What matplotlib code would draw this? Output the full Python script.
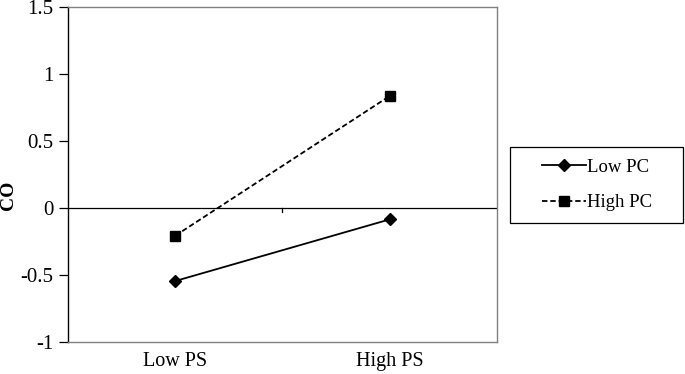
import matplotlib
matplotlib.use("Agg")
import matplotlib.pyplot as plt
from matplotlib.patches import Rectangle

categories = ["Low PS", "High PS"]
low_pc = [-0.545, -0.085]
high_pc = [-0.207, 0.836]
series_names = ["Low PC", "High PC"]
yticks = [-1, -0.5, 0, 0.5, 1, 1.5]
ytick_labels = ["-1", "-0.5", "0", "0.5", "1", "1.5"]

plt.rcParams['font.family'] = ['Liberation Serif', 'DejaVu Serif']

fig = plt.figure(figsize=(6.85, 3.74), dpi=100)
ax = fig.add_axes([0.0993, 0.0856, 0.6262, 0.8957])

x = list(range(len(categories)))
ax.plot(x, low_pc, color='black', lw=1.3, marker='D', markersize=6,
        label=series_names[0])
ax.plot(x, high_pc, color='black', lw=1.3, ls=(0, (3, 1.6)), marker='s',
        markersize=7, label=series_names[1])

ax.set_xlim(-0.5, len(categories) - 0.5)
ax.set_ylim(-1, 1.5)
ax.set_yticks(yticks)
ax.set_yticklabels(ytick_labels, fontsize=15)
ax.tick_params(axis='y', direction='out', length=6.5, width=0.9, pad=4)

ax.set_xticks(x)
ax.set_xticklabels(categories, fontsize=14.5)
ax.tick_params(axis='x', length=0, pad=7)

# category axis crossing at zero
ax.axhline(0, color='black', lw=0.9, zorder=1)
ax.plot([0.5, 0.5], [0, -0.03], color='black', lw=0.9, zorder=1)

ax.spines['left'].set_color('black')
ax.spines['left'].set_linewidth(1.0)
for s in ['top', 'right', 'bottom']:
    ax.spines[s].set_color('#808080')
    ax.spines[s].set_linewidth(1.0)

fig.text(9/685, 1 - 195/374, "CO", rotation=90, ha='center', va='center',
         fontsize=14, fontweight='bold')

# legend box
fig.patches.append(Rectangle((510/685, 1 - 223/374), 173/685, 76/374,
                             transform=fig.transFigure, fill=False,
                             ec='black', lw=0.9))
leg = fig.legend(loc='center left', bbox_to_anchor=(542/685, 1 - 185/374),
                 frameon=False, fontsize=13.5, handlelength=2.35,
                 borderpad=0, labelspacing=0.97, handletextpad=0.05,
                 borderaxespad=0)

fig.savefig("out.png", dpi=100)
